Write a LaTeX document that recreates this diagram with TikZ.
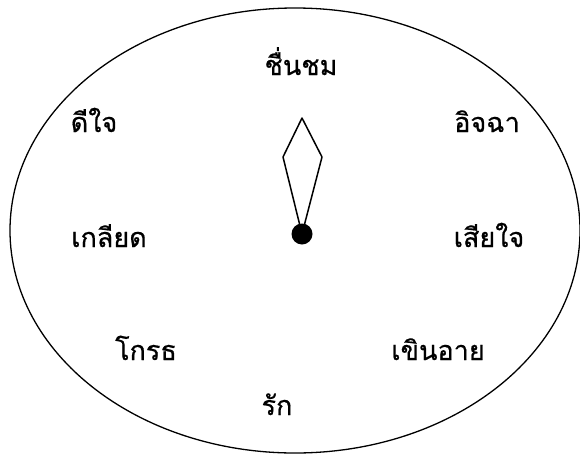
\documentclass[tikz,border=0pt]{standalone}
\usepackage{fontspec}
\newfontfamily\thaifont[Script=Thai,FakeBold=0.6]{Loma}
\usepackage{tikz}
\usetikzlibrary{positioning}

\begin{document}
\begin{tikzpicture}[x=1pt,y=-1pt,
    emotion/.style={font=\thaifont\fontsize{27}{32}\selectfont,inner sep=0pt,anchor=base},
    hub/.style={circle,fill=black,inner sep=0pt,minimum size=21pt}]
  \useasboundingbox (0,0) rectangle (580,455);
  % Draw the dial
  \draw[line width=1.3pt] (295,230.5) ellipse [x radius=285pt, y radius=222.5pt];
  % emotions around the dial
  \node[emotion] (chuenchom) at (301,75)  {ชื่นชม};
  \node[emotion] (deejai)    at (94,132)  {ดีใจ};
  \node[emotion] (itcha)     at (487,132) {อิจฉา};
  \node[emotion] (gliat)     at (109,247) {เกลียด};
  \node[emotion] (siajai)    at (489,247) {เสียใจ};
  \node[emotion] (grot)      at (146,360) {โกรธ};
  \node[emotion] (khoenai)   at (438,360) {เขินอาย};
  \node[emotion] (rak)       at (277,415) {รัก};
  % needle
  \coordinate (pivot) at (302,234);
  \coordinate (tip)   at (302,118);
  \coordinate (wingl) at (283,157);
  \coordinate (wingr) at (322,157);
  \draw[line width=1.5pt,line join=round] (pivot) -- (wingl) -- (tip) -- (wingr) -- cycle;
  \node[hub] (centre) at (pivot) {};
\end{tikzpicture}
\end{document}
